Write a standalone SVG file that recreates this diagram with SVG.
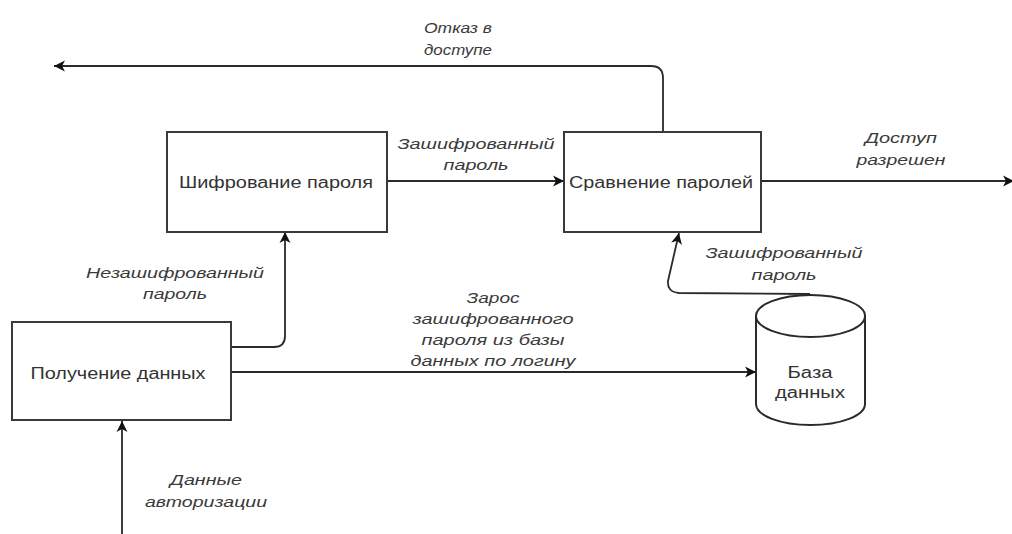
<svg xmlns="http://www.w3.org/2000/svg" width="1012" height="534" viewBox="0 0 1012 534">
  <style>
    .box { fill: #ffffff; stroke: #3a3a3a; stroke-width: 2; }
    .edge { fill: none; stroke: #2a2a2a; stroke-width: 1.8; marker-end: url(#arrow); }
    .node-text { font-family: "Liberation Sans", Arial, sans-serif; font-size: 16px; fill: #333333; text-anchor: middle; }
    .label { font-family: "Liberation Sans", Arial, sans-serif; font-size: 15px; font-style: italic; fill: #3a3a3a; text-anchor: middle; }
  </style>
  <defs>
    <marker id="arrow" markerUnits="userSpaceOnUse" markerWidth="14" markerHeight="14" refX="12" refY="7" orient="auto">
      <path d="M1,1.5 L12,7 L1,12.5 L4,7 Z" fill="#111111"/>
    </marker>
  </defs>
  <rect width="1012" height="534" fill="#ffffff"/>

  <g id="connectors">
    <!-- rejection branch leaving the comparison block -->
    <path class="edge" d="M663,132 V78 Q663,66 651,66 H54"/>
    <!-- encrypted password to comparison -->
    <path class="edge" d="M387,181 H564"/>
    <!-- access granted output -->
    <path class="edge" d="M761,181 H1014"/>
    <!-- stored hash from database to comparison -->
    <path class="edge" d="M810,294 L679,293 Q667,292 668,281 L679,233"/>
    <!-- plain password to encryption -->
    <path class="edge" d="M231,347 H274 Q285,347 285,336 V232"/>
    <!-- lookup request to database -->
    <path class="edge" d="M231,372 H756"/>
    <!-- authorization input -->
    <path class="edge" d="M122,534 V421"/>
  </g>

  <g id="labels">
    <text class="label" x="458" y="33" textLength="68" lengthAdjust="spacingAndGlyphs">Отказ в</text>
    <text class="label" x="458" y="55" textLength="68" lengthAdjust="spacingAndGlyphs">доступе</text>
    <text class="label" x="476" y="149" textLength="157" lengthAdjust="spacingAndGlyphs">Зашифрованный</text>
    <text class="label" x="476" y="170" textLength="65" lengthAdjust="spacingAndGlyphs">пароль</text>
    <text class="label" x="901" y="143" textLength="72" lengthAdjust="spacingAndGlyphs">Доступ</text>
    <text class="label" x="901" y="165" textLength="89" lengthAdjust="spacingAndGlyphs">разрешен</text>
    <text class="label" x="784" y="258" textLength="157" lengthAdjust="spacingAndGlyphs">Зашифрованный</text>
    <text class="label" x="784" y="280" textLength="65" lengthAdjust="spacingAndGlyphs">пароль</text>
    <text class="label" x="175" y="278" textLength="178" lengthAdjust="spacingAndGlyphs">Незашифрованный</text>
    <text class="label" x="175" y="299" textLength="64" lengthAdjust="spacingAndGlyphs">пароль</text>
    <text class="label" x="493" y="303" textLength="53" lengthAdjust="spacingAndGlyphs">Зарос</text>
    <text class="label" x="493" y="324" textLength="161" lengthAdjust="spacingAndGlyphs">зашифрованного</text>
    <text class="label" x="493" y="345" textLength="143" lengthAdjust="spacingAndGlyphs">пароля из базы</text>
    <text class="label" x="493" y="366" textLength="165" lengthAdjust="spacingAndGlyphs">данных по логину</text>
    <text class="label" x="206" y="485" textLength="72" lengthAdjust="spacingAndGlyphs">Данные</text>
    <text class="label" x="206" y="507" textLength="122" lengthAdjust="spacingAndGlyphs">авторизации</text>
  </g>

  <g id="encrypt">
    <rect class="box" x="167" y="132" width="220" height="100"/>
    <text class="node-text" x="276" y="188" textLength="194" lengthAdjust="spacingAndGlyphs">Шифрование пароля</text>
  </g>

  <g id="compare">
    <rect class="box" x="564" y="132" width="197" height="100"/>
    <text class="node-text" x="661" y="188" textLength="184" lengthAdjust="spacingAndGlyphs">Сравнение паролей</text>
  </g>

  <g id="receive">
    <rect class="box" x="12" y="322" width="219" height="98"/>
    <text class="node-text" x="118" y="379" textLength="175" lengthAdjust="spacingAndGlyphs">Получение данных</text>
  </g>

  <g id="database">
    <path d="M756,316 A54.5,21 0 0 1 865,316 V404 A54.5,21 0 0 1 756,404 Z" fill="#ffffff" stroke="#2a2a2a" stroke-width="2"/>
    <path d="M756,316 A54.5,21 0 0 0 865,316" fill="none" stroke="#2a2a2a" stroke-width="2"/>
    <text class="node-text" x="810" y="378" textLength="45" lengthAdjust="spacingAndGlyphs">База</text>
    <text class="node-text" x="810" y="398" textLength="70" lengthAdjust="spacingAndGlyphs">данных</text>
  </g>
</svg>
